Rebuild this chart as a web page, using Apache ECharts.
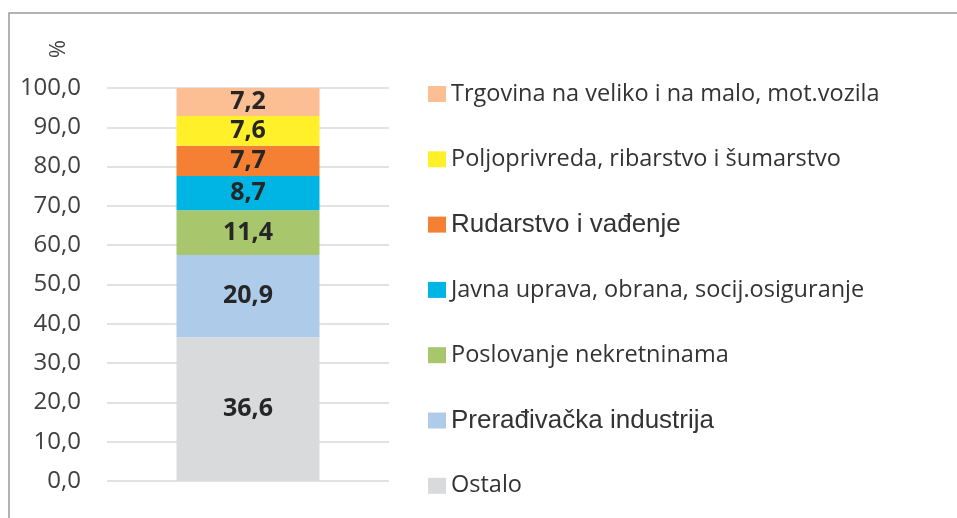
<!DOCTYPE html>
<html>
<head>
<meta charset="utf-8">
<script src="https://cdn.jsdelivr.net/npm/echarts@6/dist/echarts.min.js"></script>
<style>
  html, body { margin: 0; padding: 0; background: #fff; }
  #chart { width: 957px; height: 518px; }
</style>
</head>
<body>
<div id="chart"></div>
<script>
// data, bottom of the stack first
const categories = ['']
const seriesNames = [
    'Ostalo',
    'Prerađivačka industrija',
    'Poslovanje nekretninama',
    'Javna uprava, obrana, socij.osiguranje',
    'Rudarstvo i vađenje',
    'Poljoprivreda, ribarstvo i šumarstvo',
    'Trgovina na veliko i na malo, mot.vozila'
]
const ostalo = [36.6]
const preradivacka = [20.9]
const nekretnine = [11.4]
const javnaUprava = [8.7]
const rudarstvo = [7.7]
const poljoprivreda = [7.6]
const trgovina = [7.2]
const yTicks = [0, 10, 20, 30, 40, 50, 60, 70, 80, 90, 100]

const values = [ostalo, preradivacka, nekretnine, javnaUprava, rudarstvo, poljoprivreda, trgovina]
const colors = ['#D9DADC', '#AFCBEA', '#A8C66C', '#00B4E4', '#F57F33', '#FFF02A', '#FBBF93']
// two entries are set in a different face in the original legend
const arialItems = ['Rudarstvo i vađenje', 'Prerađivačka industrija']

const chart = echarts.init(document.getElementById('chart'))

// one legend per entry so the rows keep an even pitch
const legendRowTop = 82
const legendRowStep = 65.3
const legends = seriesNames.slice().reverse().map((name, i) => {
    const arial = arialItems.includes(name)
    return {
        orient: 'vertical',
        left: 428,
        top: legendRowTop + i * legendRowStep - (arial ? 1 : 0),
        padding: 0,
        itemWidth: 18,
        itemHeight: 16,
        icon: 'rect',
        selectedMode: false,
        data: [name],
        textStyle: {
            color: '#333',
            fontFamily: arial ? 'Liberation Sans' : 'Open Sans',
            fontSize: arial ? 26 : 23.5
        }
    }
})

chart.setOption({
    animation: false,
    backgroundColor: '#fff',
    grid: {
        left: 107,
        right: 568,
        top: 88,
        bottom: 37
    },
    graphic: [
        {
            // frame round the chart, only top and left are in view
            type: 'rect',
            shape: { x: 9, y: 13, width: 1000, height: 600 },
            style: { fill: 'none', stroke: '#9a9a9a', lineWidth: 1.5 },
            silent: true
        },
        {
            type: 'text',
            x: 55,
            y: 49,
            rotation: -Math.PI / 2,
            style: {
                text: '%',
                fill: '#404040',
                font: '22px "Open Sans"',
                align: 'center',
                verticalAlign: 'middle'
            }
        }
    ],
    legend: legends,
    xAxis: {
        type: 'category',
        data: categories,
        axisLine: { show: false },
        axisTick: { show: false },
        axisLabel: { show: false }
    },
    yAxis: {
        type: 'value',
        min: yTicks[0],
        max: yTicks[yTicks.length - 1],
        interval: 10,
        axisLine: { show: false },
        axisTick: { show: false },
        axisLabel: {
            margin: 26,
            color: '#404040',
            fontFamily: 'Open Sans',
            fontSize: 24,
            formatter: v => v.toFixed(1).replace('.', ',')
        },
        splitLine: {
            lineStyle: { color: '#d9d9d9', width: 1.5 }
        }
    },
    series: seriesNames.map((name, i) => ({
        name: name,
        type: 'bar',
        stack: 'one',
        data: values[i],
        barWidth: 143,
        itemStyle: { color: colors[i] },
        label: {
            show: true,
            position: 'inside',
            color: '#262626',
            fontFamily: 'Open Sans',
            fontWeight: 'bold',
            fontSize: 25,
            formatter: p => p.value.toFixed(1).replace('.', ',')
        }
    }))
})
</script>
</body>
</html>
